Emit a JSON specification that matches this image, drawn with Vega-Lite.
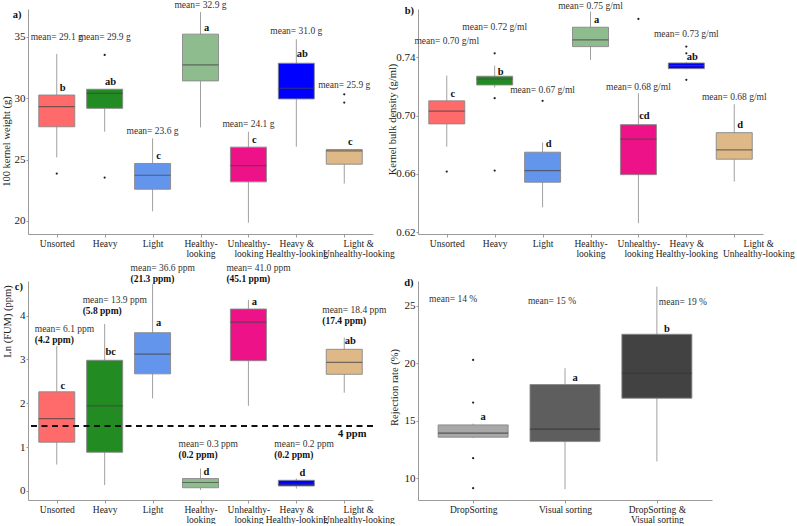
{
  "$schema": "https://vega.github.io/schema/vega-lite/v6.json",
  "background": "white",
  "padding": {"left": 1, "top": 0, "right": 0, "bottom": 0},
  "config": {
    "font": "Liberation Serif",
    "view": {"stroke": null},
    "text": {"font": "Liberation Serif"},
    "axis": {"grid": false, "domainColor": "#9a9a9a", "tickColor": "#9a9a9a", "labelFont": "Liberation Serif", "titleFont": "Liberation Serif", "labelColor": "#222", "titleColor": "#222", "titleFontWeight": "normal"},
    "axisX": {"labelAngle": 0, "labelFontSize": 9.5, "tickSize": 3, "labelPadding": 1, "labelLineHeight": 10},
    "axisY": {"labelFontSize": 11, "tickSize": 2, "labelPadding": 1, "titleFontSize": 10.5, "titleBaseline": "middle", "titleAngle": -90, "titleAlign": "center"}
  },
  "datasets": {
    "a": [
      {"cat": "Unsorted", "lower": 25.18, "q1": 27.68, "median": 29.32, "q3": 30.27, "upper": 33.62, "letter": "b", "letterY": 30.8, "mean": "mean= 29.1 g", "meanY": 35.0},
      {"cat": "Heavy", "lower": 27.28, "q1": 29.18, "median": 30.41, "q3": 30.74, "upper": 30.74, "letter": "ab", "letterY": 31.3, "mean": "mean= 29.9 g", "meanY": 35.0},
      {"cat": "Light", "lower": 20.79, "q1": 22.59, "median": 23.73, "q3": 24.69, "upper": 26.73, "letter": "c", "letterY": 25.3, "mean": "mean= 23.6 g", "meanY": 27.33},
      {"cat": "Healthy-looking", "lower": 27.63, "q1": 31.42, "median": 32.72, "q3": 35.23, "upper": 37.03, "letter": "a", "letterY": 35.7, "mean": "mean= 32.9 g", "meanY": 37.6},
      {"cat": "Unhealthy-looking", "lower": 19.86, "q1": 23.19, "median": 24.52, "q3": 26.02, "upper": 27.28, "letter": "c", "letterY": 26.6, "mean": "mean= 24.1 g", "meanY": 27.87},
      {"cat": "Heavy & Healthy-looking", "lower": 26.05, "q1": 29.95, "median": 30.82, "q3": 32.86, "upper": 34.82, "letter": "ab", "letterY": 33.6, "mean": "mean= 31.0 g", "meanY": 35.45},
      {"cat": "Light & Unhealthy-looking", "lower": 23.05, "q1": 24.63, "median": 25.72, "q3": 25.83, "upper": 25.83, "letter": "c", "letterY": 26.46, "mean": "mean= 25.9 g", "meanY": 31.1}
    ],
    "a_out": [
      {"cat": "Unsorted", "value": 23.87},
      {"cat": "Heavy", "value": 33.54},
      {"cat": "Heavy", "value": 23.54},
      {"cat": "Light & Unhealthy-looking", "value": 30.33},
      {"cat": "Light & Unhealthy-looking", "value": 29.65}
    ],
    "a_tag": [{"cat": "Unsorted", "label": "a)", "y": 36.79}],
    "b": [
      {"cat": "Unsorted", "lower": 0.6787, "q1": 0.6943, "median": 0.703, "q3": 0.7101, "upper": 0.7274, "letter": "c", "letterY": 0.7146, "mean": "mean= 0.70 g/ml", "meanY": 0.751},
      {"cat": "Heavy", "lower": 0.7192, "q1": 0.721, "median": 0.7251, "q3": 0.727, "upper": 0.7343, "letter": "b", "letterY": 0.7302, "mean": "mean= 0.72 g/ml", "meanY": 0.761},
      {"cat": "Light", "lower": 0.6371, "q1": 0.6543, "median": 0.6623, "q3": 0.6749, "upper": 0.6815, "letter": "d", "letterY": 0.6806, "mean": "mean= 0.67 g/ml", "meanY": 0.7176},
      {"cat": "Healthy-looking", "lower": 0.7382, "q1": 0.7473, "median": 0.7519, "q3": 0.7606, "upper": 0.7713, "letter": "a", "letterY": 0.7656, "mean": "mean= 0.75 g/ml", "meanY": 0.7754},
      {"cat": "Unhealthy-looking", "lower": 0.6262, "q1": 0.6595, "median": 0.6838, "q3": 0.6938, "upper": 0.7153, "letter": "cd", "letterY": 0.6995, "mean": "mean= 0.68 g/ml", "meanY": 0.7194},
      {"cat": "Heavy & Healthy-looking", "lower": 0.7318, "q1": 0.7322, "median": 0.7343, "q3": 0.7361, "upper": 0.7368, "letter": "ab", "letterY": 0.7405, "mean": "mean= 0.73 g/ml", "meanY": 0.7558},
      {"cat": "Light & Unhealthy-looking", "lower": 0.6547, "q1": 0.6701, "median": 0.6765, "q3": 0.6883, "upper": 0.7078, "letter": "d", "letterY": 0.6934, "mean": "mean= 0.68 g/ml", "meanY": 0.713}
    ],
    "b_out": [
      {"cat": "Unsorted", "value": 0.6616},
      {"cat": "Heavy", "value": 0.7427},
      {"cat": "Heavy", "value": 0.7119},
      {"cat": "Heavy", "value": 0.6623},
      {"cat": "Light", "value": 0.7101},
      {"cat": "Unhealthy-looking", "value": 0.7663},
      {"cat": "Heavy & Healthy-looking", "value": 0.7473},
      {"cat": "Heavy & Healthy-looking", "value": 0.7427},
      {"cat": "Heavy & Healthy-looking", "value": 0.7245}
    ],
    "b_tag": [{"cat": "Unsorted", "label": "b)", "y": 0.7717}],
    "c": [
      {"cat": "Unsorted", "lower": 0.6, "q1": 1.11, "median": 1.65, "q3": 2.26, "upper": 3.31, "letter": "c", "letterY": 2.39, "mean": "mean= 6.1 ppm", "med": "(4.2 ppm)", "meanY": 3.7},
      {"cat": "Heavy", "lower": 0.13, "q1": 0.88, "median": 1.94, "q3": 2.98, "upper": 3.81, "letter": "bc", "letterY": 3.16, "mean": "mean= 13.9 ppm", "med": "(5.8 ppm)", "meanY": 4.36},
      {"cat": "Light", "lower": 2.11, "q1": 2.67, "median": 3.12, "q3": 3.61, "upper": 4.72, "letter": "a", "letterY": 3.83, "mean": "mean= 36.6 ppm", "med": "(21.3 ppm)", "meanY": 5.08},
      {"cat": "Healthy-looking", "lower": 0.02, "q1": 0.07, "median": 0.19, "q3": 0.28, "upper": 0.51, "letter": "d", "letterY": 0.42, "mean": "mean= 0.3 ppm", "med": "(0.2 ppm)", "meanY": 1.06},
      {"cat": "Unhealthy-looking", "lower": 1.94, "q1": 2.97, "median": 3.85, "q3": 4.15, "upper": 4.36, "letter": "a", "letterY": 4.31, "mean": "mean= 41.0 ppm", "med": "(45.1 ppm)", "meanY": 5.08},
      {"cat": "Heavy & Healthy-looking", "lower": 0.05, "q1": 0.11, "median": 0.15, "q3": 0.24, "upper": 0.28, "letter": "d", "letterY": 0.4, "mean": "mean= 0.2 ppm", "med": "(0.2 ppm)", "meanY": 1.06},
      {"cat": "Light & Unhealthy-looking", "lower": 2.24, "q1": 2.66, "median": 2.93, "q3": 3.23, "upper": 3.5, "letter": "ab", "letterY": 3.42, "mean": "mean= 18.4 ppm", "med": "(17.4 ppm)", "meanY": 4.13}
    ],
    "c_ref": [
      {"cat": "Light & Unhealthy-looking", "y": 1.48, "labelY": 1.3, "label": "4 ppm"}
    ],
    "c_tag": [{"cat": "Unsorted", "label": "c)", "y": 4.65}],
    "d": [
      {"cat": "DropSorting", "lower": 13.5, "q1": 13.57, "median": 13.92, "q3": 14.64, "upper": 14.75, "letter": "a", "letterY": 15.3, "mean": "mean= 14 %", "meanY": 25.56},
      {"cat": "Visual sorting", "lower": 9.05, "q1": 13.19, "median": 14.27, "q3": 18.15, "upper": 19.57, "letter": "a", "letterY": 18.7, "mean": "mean= 15 %", "meanY": 25.4},
      {"cat": "DropSorting & Visual sorting", "lower": 11.46, "q1": 16.96, "median": 19.13, "q3": 22.52, "upper": 26.66, "letter": "b", "letterY": 22.98, "mean": "mean= 19 %", "meanY": 25.33}
    ],
    "d_out": [
      {"cat": "DropSorting", "value": 20.29},
      {"cat": "DropSorting", "value": 16.58},
      {"cat": "DropSorting", "value": 11.75},
      {"cat": "DropSorting", "value": 9.14}
    ],
    "d_tag": [{"cat": "DropSorting", "label": "d)", "y": 26.98}]
  },
  "columns": 2,
  "bounds": "flush",
  "spacing": {"row": 47, "column": 45},
  "resolve": {"scale": {"fill": "independent"}},
  "concat": [
    {
      "width": 345, "height": 225,
      "layer": [
        {"data": {"name": "a"}, "mark": {"type": "rule", "color": "#a0a0a0", "strokeWidth": 1},
         "encoding": {
           "x": {"field": "cat", "type": "nominal", "title": null, "scale": {"type": "point", "padding": 0.6, "domain": ["Unsorted","Heavy","Light","Healthy-looking","Unhealthy-looking","Heavy & Healthy-looking","Light & Unhealthy-looking"]},
                 "axis": {"labelOffset": {"condition": {"test": "datum.value == 'Light & Unhealthy-looking'", "value": 14}, "value": 0},
                          "labelExpr": "indexof(datum.label,' & ')>=0 ? [slice(datum.label,0,indexof(datum.label,' & ')+2), slice(datum.label,indexof(datum.label,' & ')+3)] : indexof(datum.label,'-')>=0 ? [slice(datum.label,0,indexof(datum.label,'-')+1), slice(datum.label,indexof(datum.label,'-')+1)] : datum.label"}},
           "y": {"field": "lower", "type": "quantitative", "title": "100 kernel weight (g)", "scale": {"domain": [18.94, 37.28], "nice": false, "zero": false}, "axis": {"values": [20, 25, 30, 35], "titleX": -22, "titleY": 132}},
           "y2": {"field": "upper"}}},
        {"data": {"name": "a"}, "mark": {"type": "bar", "width": 36, "stroke": "#888", "strokeWidth": 0.9},
         "encoding": {
           "x": {"field": "cat", "type": "nominal", "title": null},
           "y": {"field": "q1", "type": "quantitative", "title": "100 kernel weight (g)", "scale": {"domain": [18.94, 37.28], "nice": false, "zero": false}},
           "y2": {"field": "q3"},
           "fill": {"field": "cat", "type": "nominal", "legend": null, "scale": {"domain": ["Unsorted","Heavy","Light","Healthy-looking","Unhealthy-looking","Heavy & Healthy-looking","Light & Unhealthy-looking"], "range": ["#FF6A6A","#228B22","#6495ED","#8FBC8F","#EE1289","#0000FF","#DEB887"]}}}},
        {"data": {"name": "a"}, "mark": {"type": "tick", "size": 36, "thickness": 1.2, "color": "#444"},
         "encoding": {
           "x": {"field": "cat", "type": "nominal", "title": null},
           "y": {"field": "median", "type": "quantitative", "title": "100 kernel weight (g)", "scale": {"domain": [18.94, 37.28], "nice": false, "zero": false}}}},
        {"data": {"name": "a_out"}, "mark": {"type": "circle", "size": 5, "color": "#222", "opacity": 1},
         "encoding": {
           "x": {"field": "cat", "type": "nominal", "title": null},
           "y": {"field": "value", "type": "quantitative", "title": "100 kernel weight (g)", "scale": {"domain": [18.94, 37.28], "nice": false, "zero": false}}}},
        {"data": {"name": "a"}, "mark": {"type": "text", "fontWeight": "bold", "fontSize": 10.5, "dx": 6, "baseline": "middle", "color": "#111"},
         "encoding": {
           "x": {"field": "cat", "type": "nominal", "title": null},
           "y": {"field": "letterY", "type": "quantitative", "title": "100 kernel weight (g)", "scale": {"domain": [18.94, 37.28], "nice": false, "zero": false}},
           "text": {"field": "letter"}}},
        {"data": {"name": "a"}, "mark": {"type": "text", "fontSize": 9.5, "baseline": "middle", "color": "#333"},
         "encoding": {
           "x": {"field": "cat", "type": "nominal", "title": null},
           "y": {"field": "meanY", "type": "quantitative", "title": "100 kernel weight (g)", "scale": {"domain": [18.94, 37.28], "nice": false, "zero": false}},
           "text": {"field": "mean"}}},
        {"data": {"name": "a_tag"}, "mark": {"type": "text", "fontWeight": "bold", "fontSize": 10.5, "align": "left", "baseline": "middle", "dx": -44, "color": "#111"},
         "encoding": {
           "x": {"field": "cat", "type": "nominal", "title": null},
           "y": {"field": "y", "type": "quantitative", "title": "100 kernel weight (g)", "scale": {"domain": [18.94, 37.28], "nice": false, "zero": false}},
           "text": {"field": "label"}}}
      ]
    },
    {
      "width": 345, "height": 225,
      "layer": [
        {"data": {"name": "b"}, "mark": {"type": "rule", "color": "#a0a0a0", "strokeWidth": 1},
         "encoding": {
           "x": {"field": "cat", "type": "nominal", "title": null, "scale": {"type": "point", "padding": 0.6, "domain": ["Unsorted","Heavy","Light","Healthy-looking","Unhealthy-looking","Heavy & Healthy-looking","Light & Unhealthy-looking"]},
                 "axis": {"labelOffset": {"condition": {"test": "datum.value == 'Light & Unhealthy-looking'", "value": 24}, "value": 0},
                          "labelExpr": "indexof(datum.label,' & ')>=0 ? [slice(datum.label,0,indexof(datum.label,' & ')+2), slice(datum.label,indexof(datum.label,' & ')+3)] : indexof(datum.label,'-')>=0 ? [slice(datum.label,0,indexof(datum.label,'-')+1), slice(datum.label,indexof(datum.label,'-')+1)] : datum.label"}},
           "y": {"field": "lower", "type": "quantitative", "title": "Kernel bulk density (g/ml)", "scale": {"domain": [0.6188, 0.7731], "nice": false, "zero": false}, "axis": {"values": [0.62, 0.66, 0.70, 0.74], "format": ".2f", "titleX": -26, "titleY": 110}},
           "y2": {"field": "upper"}}},
        {"data": {"name": "b"}, "mark": {"type": "bar", "width": 36, "stroke": "#888", "strokeWidth": 0.9},
         "encoding": {
           "x": {"field": "cat", "type": "nominal", "title": null},
           "y": {"field": "q1", "type": "quantitative", "title": "Kernel bulk density (g/ml)", "scale": {"domain": [0.6188, 0.7731], "nice": false, "zero": false}},
           "y2": {"field": "q3"},
           "fill": {"field": "cat", "type": "nominal", "legend": null, "scale": {"domain": ["Unsorted","Heavy","Light","Healthy-looking","Unhealthy-looking","Heavy & Healthy-looking","Light & Unhealthy-looking"], "range": ["#FF6A6A","#228B22","#6495ED","#8FBC8F","#EE1289","#0000FF","#DEB887"]}}}},
        {"data": {"name": "b"}, "mark": {"type": "tick", "size": 36, "thickness": 1.2, "color": "#444"},
         "encoding": {
           "x": {"field": "cat", "type": "nominal", "title": null},
           "y": {"field": "median", "type": "quantitative", "title": "Kernel bulk density (g/ml)", "scale": {"domain": [0.6188, 0.7731], "nice": false, "zero": false}}}},
        {"data": {"name": "b_out"}, "mark": {"type": "circle", "size": 5, "color": "#222", "opacity": 1},
         "encoding": {
           "x": {"field": "cat", "type": "nominal", "title": null},
           "y": {"field": "value", "type": "quantitative", "title": "Kernel bulk density (g/ml)", "scale": {"domain": [0.6188, 0.7731], "nice": false, "zero": false}}}},
        {"data": {"name": "b"}, "mark": {"type": "text", "fontWeight": "bold", "fontSize": 10.5, "dx": 6, "baseline": "middle", "color": "#111"},
         "encoding": {
           "x": {"field": "cat", "type": "nominal", "title": null},
           "y": {"field": "letterY", "type": "quantitative", "title": "Kernel bulk density (g/ml)", "scale": {"domain": [0.6188, 0.7731], "nice": false, "zero": false}},
           "text": {"field": "letter"}}},
        {"data": {"name": "b"}, "mark": {"type": "text", "fontSize": 9.5, "baseline": "middle", "color": "#333"},
         "encoding": {
           "x": {"field": "cat", "type": "nominal", "title": null},
           "y": {"field": "meanY", "type": "quantitative", "title": "Kernel bulk density (g/ml)", "scale": {"domain": [0.6188, 0.7731], "nice": false, "zero": false}},
           "text": {"field": "mean"}}},
        {"data": {"name": "b_tag"}, "mark": {"type": "text", "fontWeight": "bold", "fontSize": 10.5, "align": "left", "baseline": "middle", "dx": -42, "color": "#111"},
         "encoding": {
           "x": {"field": "cat", "type": "nominal", "title": null},
           "y": {"field": "y", "type": "quantitative", "title": "Kernel bulk density (g/ml)", "scale": {"domain": [0.6188, 0.7731], "nice": false, "zero": false}},
           "text": {"field": "label"}}}
      ]
    },
    {
      "width": 345, "height": 219,
      "layer": [
        {"data": {"name": "c"}, "mark": {"type": "rule", "color": "#a0a0a0", "strokeWidth": 1},
         "encoding": {
           "x": {"field": "cat", "type": "nominal", "title": null, "scale": {"type": "point", "padding": 0.6, "domain": ["Unsorted","Heavy","Light","Healthy-looking","Unhealthy-looking","Heavy & Healthy-looking","Light & Unhealthy-looking"]},
                 "axis": {"labelOffset": {"condition": {"test": "datum.value == 'Light & Unhealthy-looking'", "value": 14}, "value": 0},
                          "labelExpr": "indexof(datum.label,' & ')>=0 ? [slice(datum.label,0,indexof(datum.label,' & ')+2), slice(datum.label,indexof(datum.label,' & ')+3)] : indexof(datum.label,'-')>=0 ? [slice(datum.label,0,indexof(datum.label,'-')+1), slice(datum.label,indexof(datum.label,'-')+1)] : datum.label"}},
           "y": {"field": "lower", "type": "quantitative", "title": "Ln (FUM) (ppm)", "scale": {"domain": [-0.21, 4.79], "nice": false, "zero": false}, "axis": {"values": [0, 1, 2, 3, 4], "titleX": -21, "titleY": 40}},
           "y2": {"field": "upper"}}},
        {"data": {"name": "c"}, "mark": {"type": "bar", "width": 36, "stroke": "#888", "strokeWidth": 0.9},
         "encoding": {
           "x": {"field": "cat", "type": "nominal", "title": null},
           "y": {"field": "q1", "type": "quantitative", "title": "Ln (FUM) (ppm)", "scale": {"domain": [-0.21, 4.79], "nice": false, "zero": false}},
           "y2": {"field": "q3"},
           "fill": {"field": "cat", "type": "nominal", "legend": null, "scale": {"domain": ["Unsorted","Heavy","Light","Healthy-looking","Unhealthy-looking","Heavy & Healthy-looking","Light & Unhealthy-looking"], "range": ["#FF6A6A","#228B22","#6495ED","#8FBC8F","#EE1289","#0000FF","#DEB887"]}}}},
        {"data": {"name": "c"}, "mark": {"type": "tick", "size": 36, "thickness": 1.2, "color": "#444"},
         "encoding": {
           "x": {"field": "cat", "type": "nominal", "title": null},
           "y": {"field": "median", "type": "quantitative", "title": "Ln (FUM) (ppm)", "scale": {"domain": [-0.21, 4.79], "nice": false, "zero": false}}}},
        {"data": {"name": "c_ref"}, "mark": {"type": "rule", "color": "#111", "strokeWidth": 2, "strokeDash": [6, 4.5]},
         "encoding": {
           "y": {"field": "y", "type": "quantitative", "title": "Ln (FUM) (ppm)", "scale": {"domain": [-0.21, 4.79], "nice": false, "zero": false}}}},
        {"data": {"name": "c_ref"}, "mark": {"type": "text", "fontWeight": "bold", "fontSize": 10.5, "dx": 8, "baseline": "middle", "color": "#111"},
         "encoding": {
           "x": {"field": "cat", "type": "nominal", "title": null},
           "y": {"field": "labelY", "type": "quantitative", "title": "Ln (FUM) (ppm)", "scale": {"domain": [-0.21, 4.79], "nice": false, "zero": false}},
           "text": {"field": "label"}}},
        {"data": {"name": "c"}, "mark": {"type": "text", "fontWeight": "bold", "fontSize": 10.5, "dx": 6, "baseline": "middle", "color": "#111"},
         "encoding": {
           "x": {"field": "cat", "type": "nominal", "title": null},
           "y": {"field": "letterY", "type": "quantitative", "title": "Ln (FUM) (ppm)", "scale": {"domain": [-0.21, 4.79], "nice": false, "zero": false}},
           "text": {"field": "letter"}}},
        {"data": {"name": "c"}, "mark": {"type": "text", "fontSize": 9.5, "baseline": "middle", "align": "left", "dx": -22, "color": "#333"},
         "encoding": {
           "x": {"field": "cat", "type": "nominal", "title": null},
           "y": {"field": "meanY", "type": "quantitative", "title": "Ln (FUM) (ppm)", "scale": {"domain": [-0.21, 4.79], "nice": false, "zero": false}},
           "text": {"field": "mean"}}},
        {"data": {"name": "c"}, "mark": {"type": "text", "fontSize": 9.5, "fontWeight": "bold", "baseline": "middle", "align": "left", "dx": -22, "dy": 11, "color": "#111"},
         "encoding": {
           "x": {"field": "cat", "type": "nominal", "title": null},
           "y": {"field": "meanY", "type": "quantitative", "title": "Ln (FUM) (ppm)", "scale": {"domain": [-0.21, 4.79], "nice": false, "zero": false}},
           "text": {"field": "med"}}},
        {"data": {"name": "c_tag"}, "mark": {"type": "text", "fontWeight": "bold", "fontSize": 10.5, "align": "left", "baseline": "middle", "dx": -42, "color": "#111"},
         "encoding": {
           "x": {"field": "cat", "type": "nominal", "title": null},
           "y": {"field": "y", "type": "quantitative", "title": "Ln (FUM) (ppm)", "scale": {"domain": [-0.21, 4.79], "nice": false, "zero": false}},
           "text": {"field": "label"}}}
      ]
    },
    {
      "width": 294, "height": 219,
      "layer": [
        {"data": {"name": "d"}, "mark": {"type": "rule", "color": "#a0a0a0", "strokeWidth": 1},
         "encoding": {
           "x": {"field": "cat", "type": "nominal", "title": null, "scale": {"type": "point", "padding": 0.6, "domain": ["DropSorting","Visual sorting","DropSorting & Visual sorting"]},
                 "axis": {"labelExpr": "indexof(datum.label,' & ')>=0 ? [slice(datum.label,0,indexof(datum.label,' & ')+2), slice(datum.label,indexof(datum.label,' & ')+3)] : datum.label"}},
           "y": {"field": "lower", "type": "quantitative", "title": "Rejection rate (%)", "scale": {"domain": [8.11, 27.15], "nice": false, "zero": false}, "axis": {"values": [10, 15, 20, 25], "titleX": -24, "titleY": 106}},
           "y2": {"field": "upper"}}},
        {"data": {"name": "d"}, "mark": {"type": "bar", "width": 70, "stroke": "#888", "strokeWidth": 0.9},
         "encoding": {
           "x": {"field": "cat", "type": "nominal", "title": null},
           "y": {"field": "q1", "type": "quantitative", "title": "Rejection rate (%)", "scale": {"domain": [8.11, 27.15], "nice": false, "zero": false}},
           "y2": {"field": "q3"},
           "fill": {"field": "cat", "type": "nominal", "legend": null, "scale": {"domain": ["DropSorting","Visual sorting","DropSorting & Visual sorting"], "range": ["#A8A8A8","#5E5E5E","#424242"]}}}},
        {"data": {"name": "d"}, "mark": {"type": "tick", "size": 70, "thickness": 1.2, "color": "#333"},
         "encoding": {
           "x": {"field": "cat", "type": "nominal", "title": null},
           "y": {"field": "median", "type": "quantitative", "title": "Rejection rate (%)", "scale": {"domain": [8.11, 27.15], "nice": false, "zero": false}}}},
        {"data": {"name": "d_out"}, "mark": {"type": "circle", "size": 5, "color": "#222", "opacity": 1},
         "encoding": {
           "x": {"field": "cat", "type": "nominal", "title": null},
           "y": {"field": "value", "type": "quantitative", "title": "Rejection rate (%)", "scale": {"domain": [8.11, 27.15], "nice": false, "zero": false}}}},
        {"data": {"name": "d"}, "mark": {"type": "text", "fontWeight": "bold", "fontSize": 10.5, "dx": 10, "baseline": "middle", "color": "#111"},
         "encoding": {
           "x": {"field": "cat", "type": "nominal", "title": null},
           "y": {"field": "letterY", "type": "quantitative", "title": "Rejection rate (%)", "scale": {"domain": [8.11, 27.15], "nice": false, "zero": false}},
           "text": {"field": "letter"}}},
        {"data": {"name": "d"}, "transform": [{"filter": "datum.cat == 'DropSorting'"}], "mark": {"type": "text", "fontSize": 9.5, "baseline": "middle", "dx": -20, "color": "#333"},
         "encoding": {
           "x": {"field": "cat", "type": "nominal", "title": null},
           "y": {"field": "meanY", "type": "quantitative", "title": "Rejection rate (%)", "scale": {"domain": [8.11, 27.15], "nice": false, "zero": false}},
           "text": {"field": "mean"}}},
        {"data": {"name": "d"}, "transform": [{"filter": "datum.cat == 'Visual sorting'"}], "mark": {"type": "text", "fontSize": 9.5, "baseline": "middle", "dx": -13, "color": "#333"},
         "encoding": {
           "x": {"field": "cat", "type": "nominal", "title": null},
           "y": {"field": "meanY", "type": "quantitative", "title": "Rejection rate (%)", "scale": {"domain": [8.11, 27.15], "nice": false, "zero": false}},
           "text": {"field": "mean"}}},
        {"data": {"name": "d"}, "transform": [{"filter": "datum.cat == 'DropSorting & Visual sorting'"}], "mark": {"type": "text", "fontSize": 9.5, "baseline": "middle", "dx": 26, "color": "#333"},
         "encoding": {
           "x": {"field": "cat", "type": "nominal", "title": null},
           "y": {"field": "meanY", "type": "quantitative", "title": "Rejection rate (%)", "scale": {"domain": [8.11, 27.15], "nice": false, "zero": false}},
           "text": {"field": "mean"}}},
        {"data": {"name": "d_tag"}, "mark": {"type": "text", "fontWeight": "bold", "fontSize": 10.5, "align": "left", "baseline": "middle", "dx": -69, "color": "#111"},
         "encoding": {
           "x": {"field": "cat", "type": "nominal", "title": null},
           "y": {"field": "y", "type": "quantitative", "title": "Rejection rate (%)", "scale": {"domain": [8.11, 27.15], "nice": false, "zero": false}},
           "text": {"field": "label"}}}
      ]
    }
  ]
}
